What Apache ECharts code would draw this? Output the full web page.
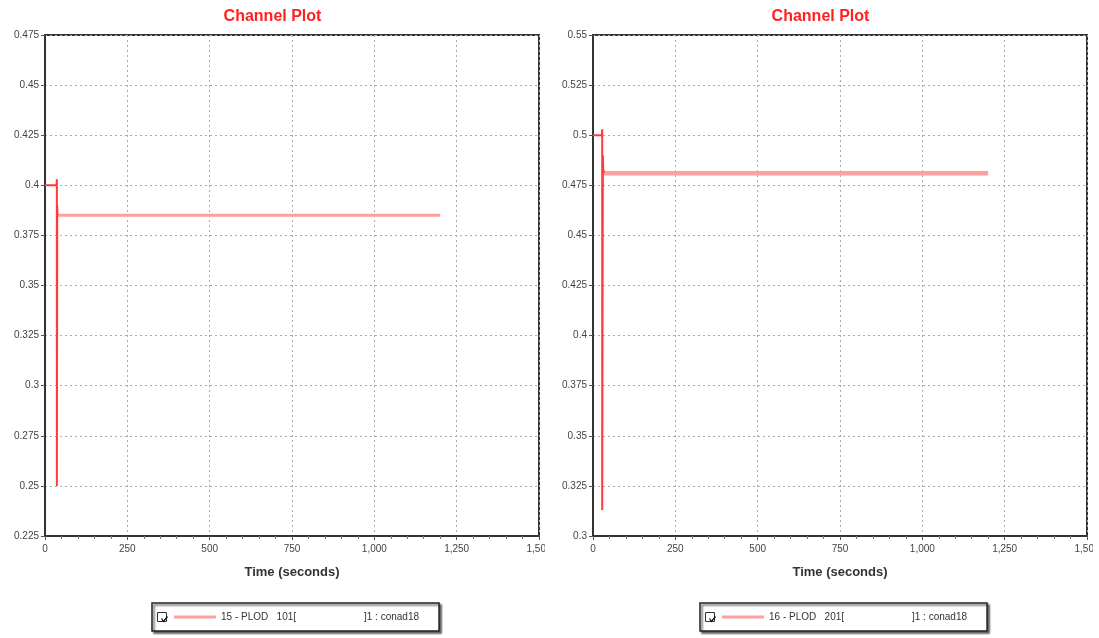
<!DOCTYPE html>
<html>
<head>
<meta charset="utf-8">
<script src="https://cdn.jsdelivr.net/npm/echarts@6/dist/echarts.min.js"></script>
<style>
  html, body { margin: 0; padding: 0; background: #fff; }
  .charts { position: absolute; top: 0; width: 545px; height: 638px; overflow: hidden; }
  #left { left: 0; }
  #right { left: 548px; }
</style>
</head>
<body>
<div id="left" class="charts"></div>
<div id="right" class="charts"></div>
<script>
// x-axis ticks (seconds)
const timeTicks = [0, 250, 500, 750, 1000, 1250, 1500]

// channel 15 - start-up transient, then steady value
const leftTransientT = [0, 35, 36, 36, 37, 37, 38]
const leftTransientV = [0.4, 0.4, 0.403, 0.25, 0.36, 0.39, 0.385]
const leftSteadyT = [38, 1200]
const leftSteadyV = [0.385, 0.385]
const leftYTicks = [0.225, 0.25, 0.275, 0.3, 0.325, 0.35, 0.375, 0.4, 0.425, 0.45, 0.475]

// channel 16
const rightTransientT = [0, 27, 28, 28, 29, 30, 31, 33]
const rightTransientV = [0.5, 0.5, 0.503, 0.313, 0.408, 0.49, 0.483, 0.481]
const rightSteadyT = [33, 1200]
const rightSteadyV = [0.481, 0.481]
const rightYTicks = [0.3, 0.325, 0.35, 0.375, 0.4, 0.425, 0.45, 0.475, 0.5, 0.525, 0.55]

const legendNames = ['15 - PLOD   101[', '16 - PLOD   201[']

function pairs (ts, vs) {
  return ts.map((t, i) => [t, vs[i]])
}

function makeOption (yTicks, transT, transV, steadyT, steadyV, legendName, steadyWidth) {
  let name = legendName + ']1 : conad18'
  return {
    animation: false,
    title: {
      text: 'Channel Plot',
      left: 'center',
      top: 4,
      textStyle: { color: '#ff2020', fontSize: 16, fontWeight: 'bold', fontFamily: 'Liberation Sans' }
    },
    grid: {
      left: 45, right: 6, top: 35, bottom: 102,
      outerBoundsMode: 'none',
      show: true, borderColor: '#333', borderWidth: 2, backgroundColor: '#fff'
    },
    legend: {
      data: [name],
      left: 152, top: 603,
      padding: [9, 20, 9, 22],
      itemWidth: 42, itemHeight: 3, itemGap: 6,
      icon: 'rect',
      borderColor: '#222', borderWidth: 1.5,
      backgroundColor: '#fff',
      shadowColor: 'rgba(0,0,0,0.6)', shadowBlur: 2, shadowOffsetX: 2, shadowOffsetY: 2,
      selectedMode: false,
      formatter: () => '{a|' + legendName + '}{b|]1 : conad18}',
      textStyle: {
        fontFamily: 'Liberation Sans', fontSize: 10, color: '#333',
        rich: {
          a: { width: 143, fontSize: 10, color: '#333', fontFamily: 'Liberation Sans' },
          b: { fontSize: 10, color: '#333', fontFamily: 'Liberation Sans' }
        }
      }
    },
    graphic: [
      { type: 'rect', left: 157, top: 612, shape: { width: 9, height: 9 },
        style: { fill: '#fff', stroke: '#333', lineWidth: 1 }, z: 100 },
      { type: 'polyline', left: 159, top: 614, shape: { points: [[0, 2], [2, 5], [6, 0]] },
        style: { fill: null, stroke: '#111', lineWidth: 1.3 }, z: 101 }
    ],
    xAxis: {
      type: 'value',
      min: timeTicks[0],
      max: timeTicks[timeTicks.length - 1],
      interval: timeTicks[1] - timeTicks[0],
      name: 'Time (seconds)',
      nameLocation: 'middle',
      nameGap: 30,
      nameTextStyle: { fontFamily: 'Liberation Sans', fontSize: 13, fontWeight: 'bold', color: '#333' },
      axisLine: { lineStyle: { color: '#333', width: 2 } },
      axisTick: { show: true, length: 4, lineStyle: { color: '#555' } },
      minorTick: { show: true, splitNumber: 5, length: 3, lineStyle: { color: '#777' } },
      axisLabel: {
        fontFamily: 'Liberation Sans', fontSize: 10, color: '#444', margin: 8,
        showMaxLabel: true,
        formatter: v => v.toLocaleString('en-US')
      },
      splitLine: { show: true, lineStyle: { color: '#aaa', type: [2, 3], width: 1 } }
    },
    yAxis: {
      type: 'value',
      min: yTicks[0],
      max: yTicks[yTicks.length - 1],
      interval: 0.025,
      axisLine: { show: true, lineStyle: { color: '#333', width: 2 } },
      axisTick: { show: true, length: 4, lineStyle: { color: '#555' } },
      axisLabel: {
        fontFamily: 'Liberation Sans', fontSize: 10, color: '#444', margin: 6,
        formatter: v => parseFloat(v.toFixed(3)).toString()
      },
      splitLine: { show: true, lineStyle: { color: '#aaa', type: [2, 3], width: 1 } }
    },
    series: [
      {
        name: name,
        type: 'line',
        data: pairs(steadyT, steadyV),
        symbol: 'none',
        lineStyle: { color: '#ff9e9e', width: steadyWidth },
        itemStyle: { color: '#ff9e9e' },
        z: 2
      },
      {
        name: 'transient',
        type: 'line',
        data: pairs(transT, transV),
        symbol: 'none',
        lineStyle: { color: '#ff3a3a', width: 2 },
        z: 3
      }
    ]
  }
}

let leftChart = echarts.init(document.getElementById('left'))
leftChart.setOption(makeOption(leftYTicks, leftTransientT, leftTransientV, leftSteadyT, leftSteadyV, legendNames[0], 3))

let rightChart = echarts.init(document.getElementById('right'))
rightChart.setOption(makeOption(rightYTicks, rightTransientT, rightTransientV, rightSteadyT, rightSteadyV, legendNames[1], 4.5))
</script>
</body>
</html>
